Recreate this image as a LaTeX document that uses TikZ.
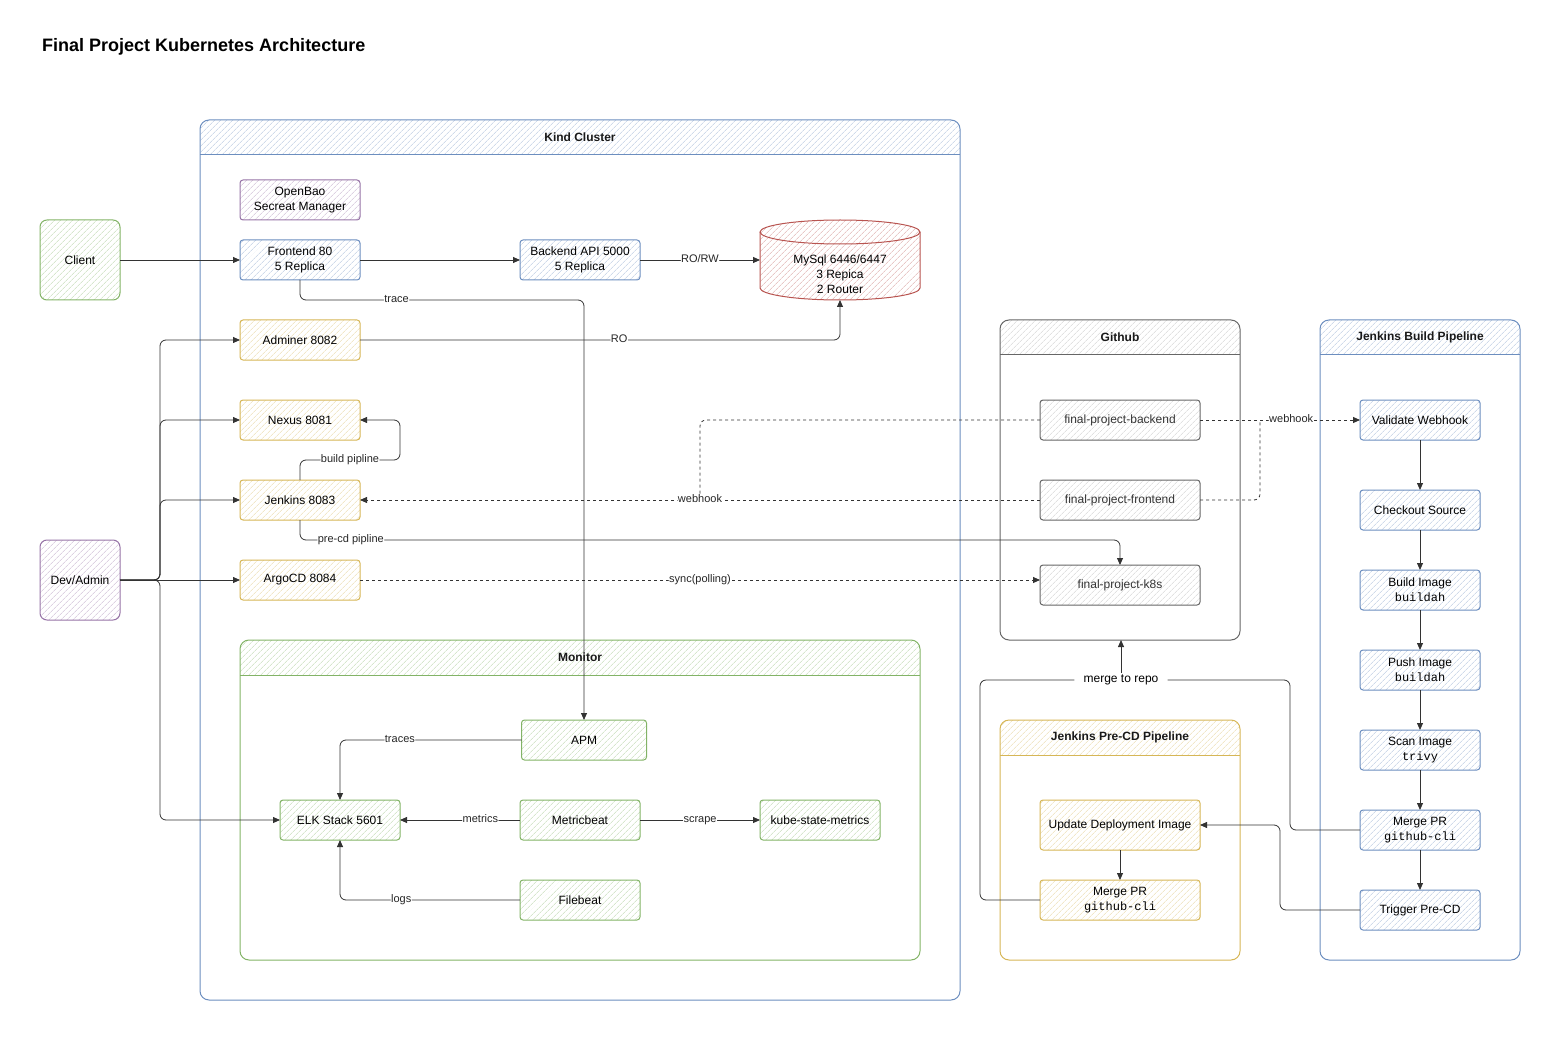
\documentclass[tikz,border=0pt]{standalone}
\usepackage{fontspec}
\setmainfont{Liberation Sans}
\setmonofont{Liberation Mono}
\usepackage{tikz}
\usetikzlibrary{arrows.meta,positioning,patterns.meta}
\definecolor{blueline}{HTML}{6C8EBF}
\definecolor{greenline}{HTML}{82B366}
\definecolor{purpleline}{HTML}{9673A6}
\definecolor{redline}{HTML}{B85450}
\definecolor{yellowline}{HTML}{D6B656}
\definecolor{grayline}{HTML}{666666}
\definecolor{darktext}{HTML}{333333}
\colorlet{bluehatch}{blueline!50!white}
\colorlet{greenhatch}{greenline!50!white}
\colorlet{purplehatch}{purpleline!50!white}
\colorlet{redhatch}{redline!50!white}
\colorlet{yellowhatch}{yellowline!50!white}
\colorlet{grayhatch}{grayline!30!white}

% swimlane: name, colour, x1, y1, x2, y2, title
\newcommand{\laneframe}[7]{%
  \begin{scope}
    \clip (#3,#4) rectangle (#5,#4+35);
    \path[rounded corners=9pt, pattern={Lines[angle=45,distance=4pt,line width=0.5pt]}, pattern color=#2hatch] (#3,#4) rectangle (#5,#6);
  \end{scope}
  \node[lane, draw=#2line, minimum width={(#5-#3)*1pt}, minimum height={(#6-#4)*1pt}] (#1) at ({(#3+#5)/2},{(#4+#6)/2}) {};
  \draw[#2line, line width=1pt] (#3,#4+35) -- (#5,#4+35);
  \node[font=\bfseries\fontsize{12}{14}\selectfont, text=black!90] (#1title) at ({(#3+#5)/2},#4+17.5) {#7};
}

\begin{document}
\begin{tikzpicture}[
    x=1pt, y=-1pt,
    lane/.style={rounded corners=9pt, line width=1pt, inner sep=0pt, outer sep=0pt},
    box/.style={draw, rounded corners=3pt, align=center, minimum width=120pt, minimum height=40pt, inner sep=1pt, outer sep=0pt, line width=1pt, font=\fontsize{12}{15}\selectfont, pattern={Lines[angle=45,distance=4pt,line width=0.6pt]}},
    bluebox/.style={box, draw=blueline, pattern color=bluehatch},
    greenbox/.style={box, draw=greenline, pattern color=greenhatch},
    purplebox/.style={box, draw=purpleline, pattern color=purplehatch},
    yellowbox/.style={box, draw=yellowline, pattern color=yellowhatch},
    graybox/.style={box, draw=grayline, pattern color=grayhatch, text=darktext, minimum width=160pt},
    actor/.style={minimum width=80pt, minimum height=80pt, rounded corners=7pt},
    line/.style={draw=black!80, line width=0.8pt, rounded corners=6pt},
    arrow/.style={line, -{Triangle[length=7pt,width=6pt]}},
    dashline/.style={line, dash pattern=on 3pt off 3pt},
    dasharrow/.style={arrow, dash pattern=on 3pt off 3pt},
    elabel/.style={fill=white, inner sep=0.5pt, text height=8pt, text depth=2.5pt, font=\fontsize{11}{13}\selectfont, text=black!85}
]
    \useasboundingbox (0,0) rectangle (1560,1040);

    \node[anchor=west, inner sep=0pt, font=\bfseries\fontsize{18}{22}\selectfont] (title) at (42,47) {Final Project Kubernetes Architecture};

    % containers
    \laneframe{kind}{blue}{200}{120}{960}{1000}{Kind Cluster}
    \laneframe{monitor}{green}{240}{640}{920}{960}{Monitor}
    \laneframe{github}{gray}{1000}{320}{1240}{640}{Github}
    \laneframe{buildpipe}{blue}{1320}{320}{1520}{960}{Jenkins Build Pipeline}
    \laneframe{precdpipe}{yellow}{1000}{720}{1240}{960}{Jenkins Pre-CD Pipeline}

    % outside
    \node[greenbox, actor] (client) at (80,260) {Client};
    \node[purplebox, actor] (dev) at (80,580) {Dev/Admin};

    % cluster
    \node[purplebox] (openbao) at (300,200) {OpenBao\\Secreat Manager};
    \node[bluebox] (frontend) at (300,260) {Frontend 80\\5 Replica};
    \node[bluebox] (backend) at (580,260) {Backend API 5000\\5 Replica};
    \node[yellowbox] (adminer) at (300,340) {Adminer 8082};
    \node[yellowbox] (nexus) at (300,420) {Nexus 8081};
    \node[yellowbox] (jenkins) at (300,500) {Jenkins 8083};
    \node[yellowbox] (argocd) at (300,580) {ArgoCD 8084};

    % database
    \path[pattern={Lines[angle=45,distance=4pt,line width=0.6pt]}, pattern color=redhatch] (760,232) -- (760,288) arc(180:360:80pt and 12pt) -- (920,232) arc(0:180:80pt and 12pt) -- cycle;
    \draw[redline, line width=1pt] (760,232) -- (760,288) arc(180:360:80pt and 12pt) -- (920,232) arc(0:180:80pt and 12pt) -- cycle;
    \draw[redline, line width=1pt] (760,232) arc(180:360:80pt and 12pt);
    \node[minimum width=160pt, minimum height=80pt, inner sep=0pt, outer sep=0pt] (mysql) at (840,260) {};
    \node[align=center, font=\fontsize{12}{15}\selectfont] (mysqltext) at (840,274) {MySql 6446/6447\\3 Repica\\2 Router};

    % monitor
    \node[greenbox, minimum width=125pt] (apm) at (584,740) {APM};
    \node[greenbox] (elk) at (340,820) {ELK Stack 5601};
    \node[greenbox] (metricbeat) at (580,820) {Metricbeat};
    \node[greenbox] (ksm) at (820,820) {kube-state-metrics};
    \node[greenbox] (filebeat) at (580,900) {Filebeat};

    % github
    \node[graybox] (backrepo) at (1120,420) {final-project-backend};
    \node[graybox] (frontrepo) at (1120,500) {final-project-frontend};
    \node[graybox] (k8srepo) at (1120,585) {final-project-k8s};

    % build pipeline
    \node[bluebox] (validate) at (1420,420) {Validate Webhook};
    \node[bluebox] (checkout) at (1420,510) {Checkout Source};
    \node[bluebox] (build) at (1420,590) {Build Image\\\texttt{buildah}};
    \node[bluebox] (push) at (1420,670) {Push Image\\\texttt{buildah}};
    \node[bluebox] (scan) at (1420,750) {Scan Image\\\texttt{trivy}};
    \node[bluebox] (mergeb) at (1420,830) {Merge PR\\\texttt{github-cli}};
    \node[bluebox] (trigger) at (1420,910) {Trigger Pre-CD};

    % pre-cd pipeline
    \node[yellowbox, minimum width=160pt, minimum height=50pt] (update) at (1120,825) {Update Deployment Image};
    \node[yellowbox, minimum width=160pt] (mergep) at (1120,900) {Merge PR\\\texttt{github-cli}};

    % connectors
    \coordinate (tracebend) at (584,300);
    \coordinate (precdbend) at (1120,540);
    \coordinate (hookjoin) at (700,500);

    \draw[arrow] (client) -- (frontend);
    \draw[arrow] (frontend) -- (backend);
    \draw[arrow] (backend) -- node[elabel]{RO/RW} (mysql);
    \draw[arrow] (frontend.south) |- node[elabel, pos=0.67]{trace} (tracebend) -- (apm.north);
    \draw[arrow] (adminer.east) -| node[elabel, pos=0.27]{RO} (mysql.south);
    \foreach \t in {adminer,nexus,jenkins,elk}
        \draw[arrow] (dev.east) -- ++(40,0) |- (\t.west);
    \draw[arrow] (dev.east) -- (argocd.west);
    \draw[arrow] (jenkins.north) -- ++(0,-20) -- node[elabel]{build pipline} ++(100,0) |- (nexus.east);
    \draw[arrow] (jenkins.south) |- node[elabel, pos=0.531]{pre-cd pipline} (precdbend) -- (k8srepo.north);
    \draw[dasharrow] (argocd.east) -- node[elabel]{sync(polling)} (argocd.east -| k8srepo.west);
    \draw[dashline] (backrepo.west) -| (hookjoin);
    \draw[dasharrow] (frontrepo.west) -- node[elabel]{webhook} (jenkins.east);
    \draw[dasharrow] (backrepo.east) -- node[elabel, pos=0.57]{webhook} (validate.west);
    \draw[dashline] (frontrepo.east) -| (1260,420);

    \foreach \a/\b in {validate/checkout, checkout/build, build/push, push/scan, scan/mergeb, mergeb/trigger}
        \draw[arrow] (\a) -- (\b);

    \node[fill=white, inner xsep=9pt, inner ysep=2pt, font=\fontsize{12}{14}\selectfont] (mergelabel) at (1121,680) {merge to repo};
    \draw[line] (mergeb.west) -- ++(-70,0) |- (mergelabel.east);
    \draw[line] (mergep.west) -- ++(-60,0) |- (mergelabel.west);
    \draw[arrow] (mergelabel.north) -- (mergelabel.north |- github.south);
    \draw[arrow] (trigger.west) -- ++(-80,0) |- (update.east);
    \draw[arrow] (update) -- (mergep);

    \draw[arrow] (apm.west) -| node[elabel, pos=0.335]{traces} (elk.north);
    \draw[arrow] (metricbeat) -- node[elabel, pos=0.33]{metrics} (elk);
    \draw[arrow] (metricbeat) -- node[elabel]{scrape} (ksm);
    \draw[arrow] (filebeat.west) -| node[elabel, pos=0.33]{logs} (elk.south);
\end{tikzpicture}
\end{document}
